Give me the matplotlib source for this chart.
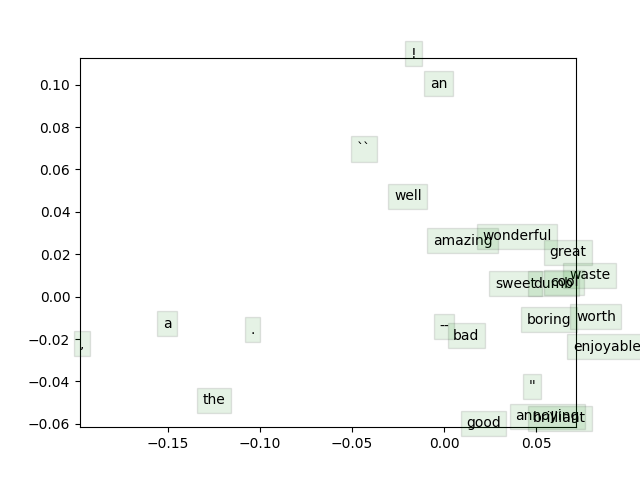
import matplotlib
matplotlib.use('Agg')
import matplotlib.pyplot as plt

words = ['!', 'an', '``', 'well', 'amazing', 'wonderful', 'great', 'waste',
         'sweet', 'dumb', 'cool', 'worth', 'boring', 'enjoyable', 'bad', '--',
         'a', '.', ',', 'the', "''", 'good', 'annoying', 'brilliant']
xs = [-0.0182, -0.0076, -0.0473, -0.0272, -0.0060, 0.0207, 0.0571, 0.0679,
      0.0277, 0.0484, 0.0576, 0.0717, 0.0451, 0.0701, 0.0049, -0.0027,
      -0.1527, -0.1054, -0.1978, -0.1310, 0.0457, 0.0120, 0.0386, 0.0484]
ys = [0.1128, 0.0986, 0.0678, 0.0455, 0.0246, 0.0265, 0.0190, 0.0081,
      0.0043, 0.0043, 0.0050, -0.0114, -0.0128, -0.0256, -0.0204, -0.0161,
      -0.0147, -0.0175, -0.0242, -0.0507, -0.0441, -0.0616, -0.0583, -0.0592]

fig = plt.figure(figsize=(6.4, 4.8), dpi=100)
for w, x, y in zip(words, xs, ys):
    plt.annotate(w, xy=(x, y), bbox=dict(facecolor='green', alpha=0.1))
plt.xlim(min(xs), max(xs))
plt.ylim(min(ys), max(ys))
plt.savefig('out.png')
